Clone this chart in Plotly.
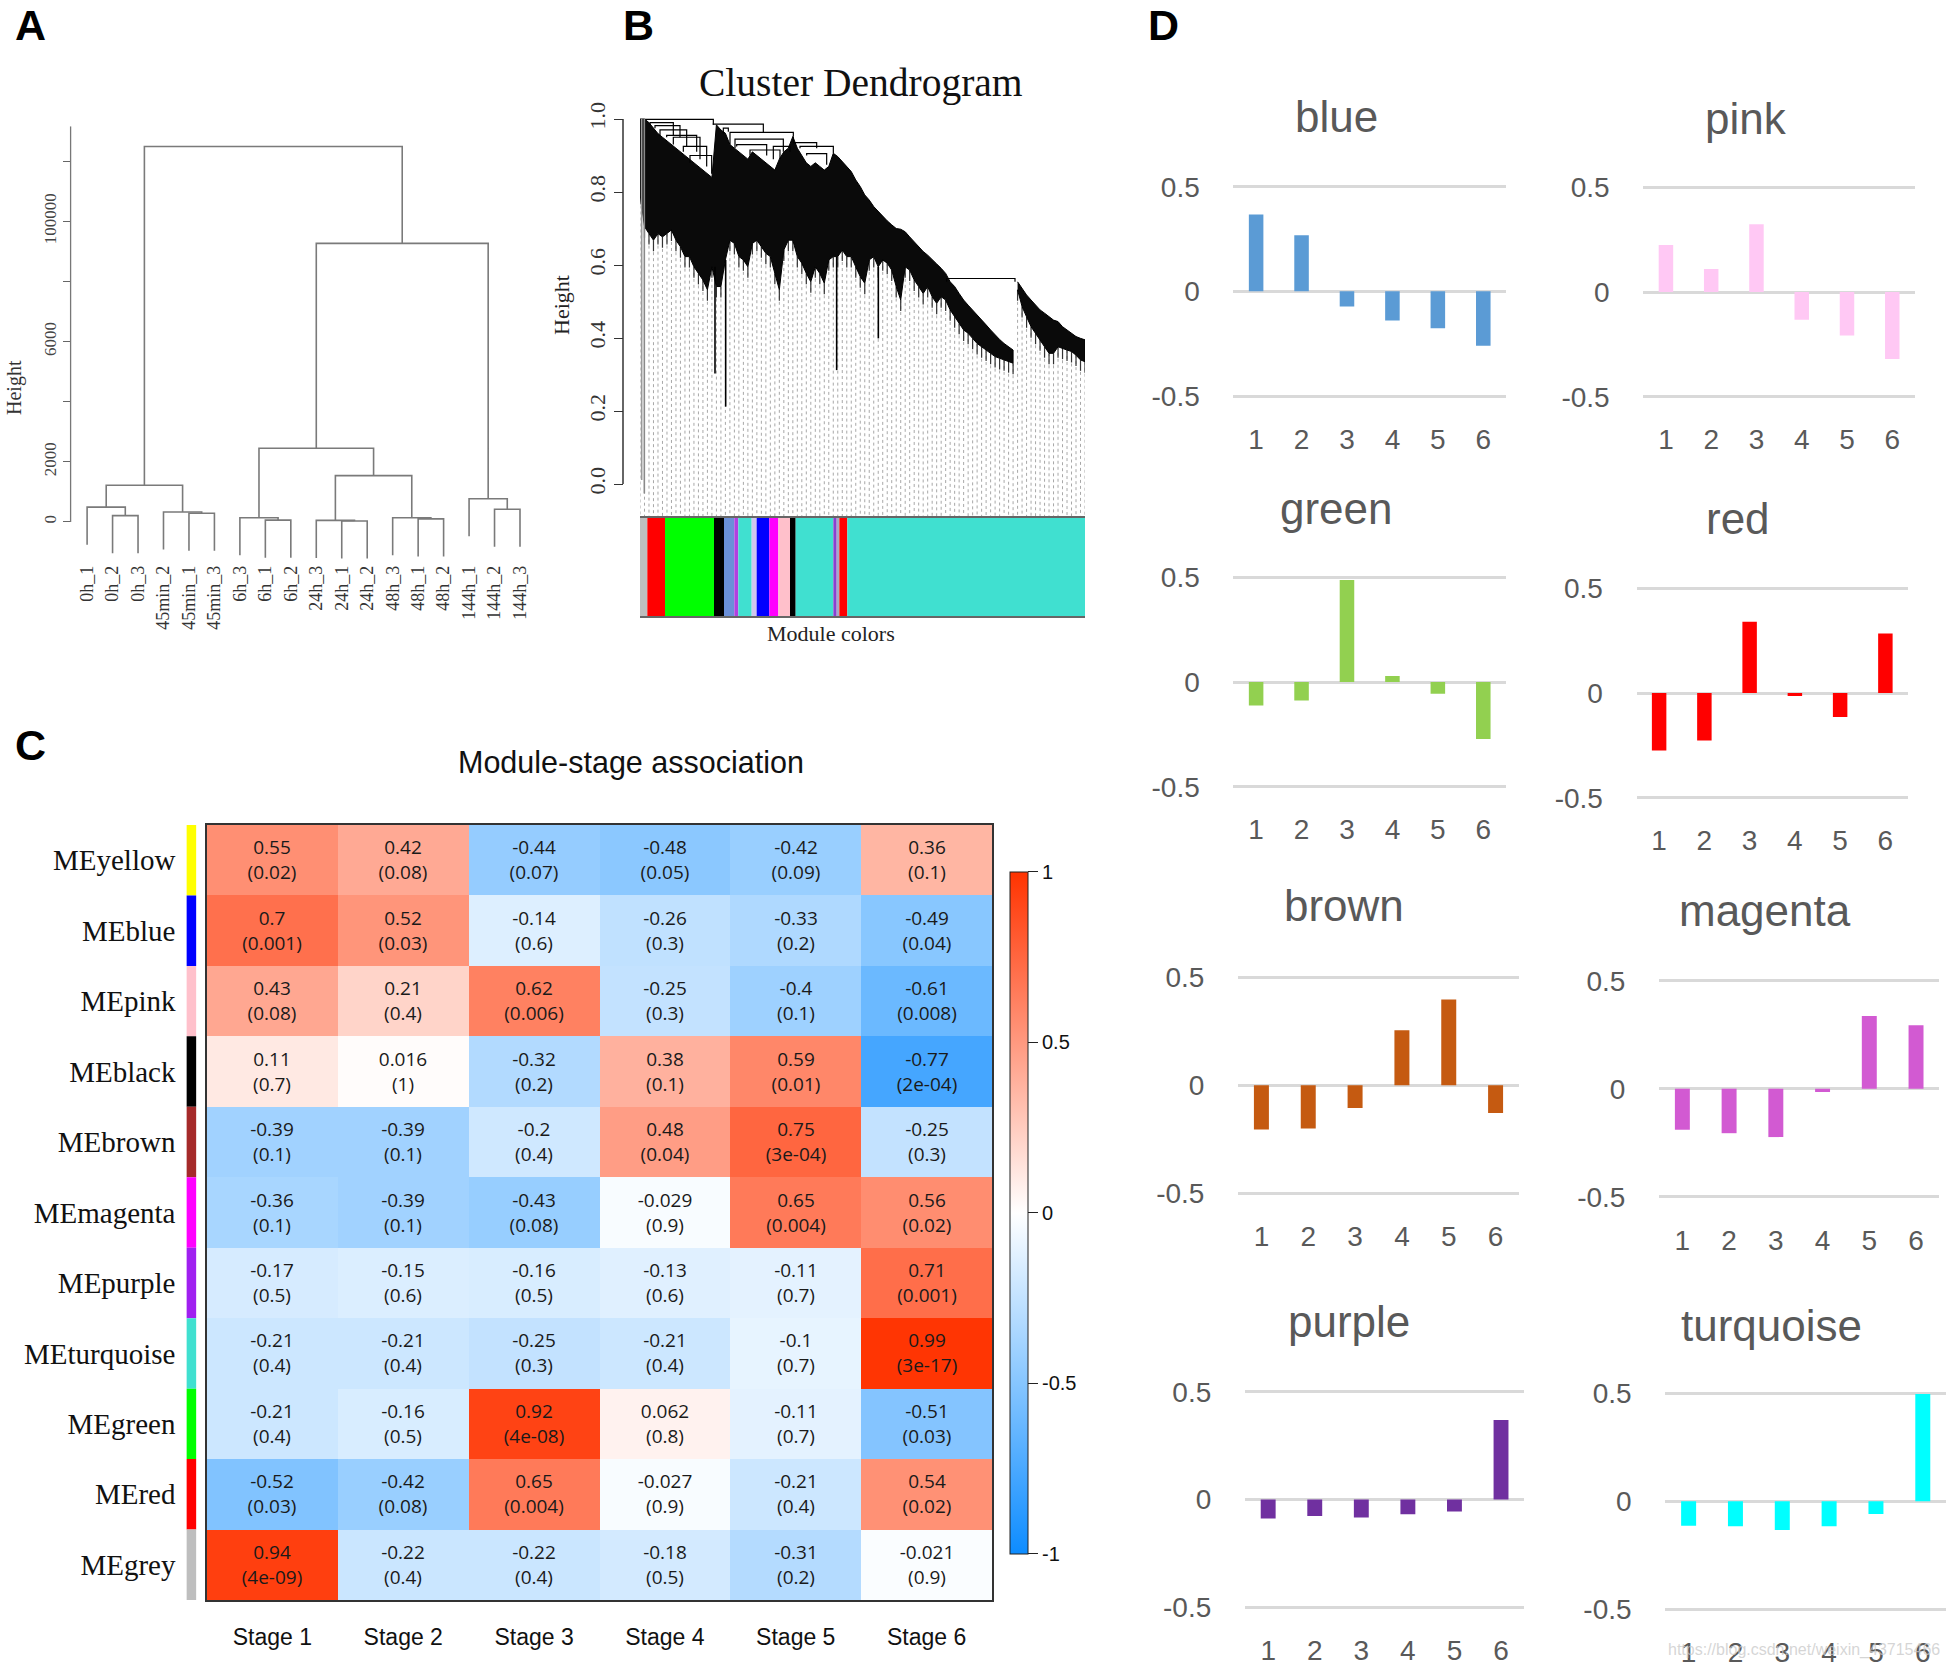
import plotly.graph_objects as go
import numpy as np

W, H = 1949, 1667
SERIF = "Liberation Serif, Times New Roman, serif"
SANS = "Liberation Sans, Arial, sans-serif"
CELL = "Open Sans, Noto Sans, sans-serif"

# ---------------- Panel A: sample dendrogram ----------------
A_leaves = ["0h_1", "0h_2", "0h_3", "45min_2", "45min_1", "45min_3",
            "6h_3", "6h_1", "6h_2", "24h_3", "24h_1", "24h_2",
            "48h_3", "48h_1", "48h_2", "144h_1", "144h_2", "144h_3"]
A_merge_left = [-2, -1, -5, -4, 2, -8, -7, -11, -10, -14, -13, 9, 7, -17, -16, 13, 5]
A_merge_right = [-3, 1, -6, 3, 4, -9, 6, -12, 8, -15, 10, 11, 12, -18, 14, 15, 16]
A_merge_height = [210, 490, 290, 330, 1220, 60, 140, 30, 50, 100, 140, 1540, 2450, 420, 770, 9270, 12490]
A_hang = 1250
A_tickvals = [0, 2000, 4000, 6000, 8000, 10000, 12000]
A_ticktext = ["0", "2000", "", "6000", "", "100000", ""]

# ---------------- Panel B: gene dendrogram + module colours ----------------
B_module_names = ["grey", "red", "green", "black", "steelblue", "purple", "turquoise", "lavender",
                  "blue", "magenta", "pink", "black", "turquoise", "purple", "grey", "red", "turquoise"]
B_module_colors = ["#BEBEBE", "#FF0000", "#00FF00", "#000000", "#6A8FD8", "#B040E0", "#40E0D0", "#CFC6EE",
                   "#0000FF", "#FF00FF", "#FFC0CB", "#000000", "#40E0D0", "#8A3FD0", "#A8A8C8", "#FF0000", "#40E0D0"]
B_module_sizes = [22, 53, 147, 30, 31, 12, 40, 15, 38, 27, 35, 17, 113, 10, 8, 24, 713]
B_guide_count = 100
B_hang = 0.03
B_leaf_h = [0.796, 0.705, 0.686, 0.668, 0.686, 0.677, 0.686, 0.696, 0.668, 0.650,
            0.623, 0.623, 0.595, 0.577, 0.559, 0.532, 0.595, 0.541, 0.541, 0.614,
            0.668, 0.659, 0.623, 0.614, 0.595, 0.659, 0.668, 0.650, 0.632, 0.623,
            0.577, 0.532, 0.641, 0.668, 0.668, 0.623, 0.605, 0.577, 0.554, 0.595,
            0.577, 0.550, 0.614, 0.623, 0.623, 0.641, 0.623, 0.623, 0.595, 0.568,
            0.550, 0.614, 0.623, 0.595, 0.614, 0.605, 0.586, 0.541, 0.504, 0.595,
            0.586, 0.559, 0.541, 0.522, 0.541, 0.513, 0.495, 0.513, 0.504, 0.477,
            0.458, 0.440, 0.422, 0.413, 0.399, 0.385, 0.376, 0.367, 0.358, 0.349,
            0.344, 0.340, 0.335, 0.331, 0.532, 0.486, 0.458, 0.431, 0.413, 0.395,
            0.376, 0.358, 0.358, 0.376, 0.372, 0.367, 0.363, 0.353, 0.340, 0.335]
B_top_h = [1.000, 1.000, 0.990, 0.975, 0.960, 0.950, 0.940, 0.930, 0.920, 0.910,
           0.900, 0.890, 0.880, 0.870, 0.860, 0.850, 0.840, 0.984, 0.970, 0.961,
           0.930, 0.920, 0.910, 0.900, 0.890, 0.910, 0.900, 0.890, 0.880, 0.870,
           0.860, 0.890, 0.910, 0.920, 0.952, 0.920, 0.900, 0.880, 0.870, 0.880,
           0.870, 0.860, 0.870, 0.906, 0.897, 0.883, 0.869, 0.856, 0.833, 0.815,
           0.792, 0.778, 0.760, 0.746, 0.732, 0.721, 0.710, 0.700, 0.698, 0.691,
           0.677, 0.664, 0.650, 0.637, 0.627, 0.616, 0.603, 0.591, 0.577, 0.554,
           0.541, 0.522, 0.504, 0.490, 0.477, 0.463, 0.449, 0.436, 0.422, 0.408,
           0.396, 0.385, 0.376, 0.367, 0.554, 0.536, 0.518, 0.504, 0.490, 0.477,
           0.468, 0.458, 0.449, 0.445, 0.431, 0.422, 0.413, 0.404, 0.399, 0.395]
B_cluster_split = 84   # first guide index of the right-hand cluster
# upper merges: left gene pos, right gene pos, merge height, left child top, right child top
B_br_left = [15, 220, 270, 285, 460, 480, 45, 80, 920,
             30, 60, 100, 130, 150, 290, 330, 500, 250, 400]
B_br_right = [220, 370, 460, 430, 530, 580, 120, 170, 1125,
              100, 140, 180, 200, 215, 380, 420, 560, 265, 450]
B_br_h = [0.999, 0.986, 0.9635, 0.945, 0.935, 0.925, 0.982, 0.955, 0.563,
          0.990, 0.970, 0.950, 0.925, 0.900, 0.930, 0.915, 0.905, 0.975, 0.925]
B_br_hl = [1.000, 0.984, 0.930, 0.920, 0.952, 0.920, 0.975, 0.950, 0.554,
           0.985, 0.955, 0.930, 0.910, 0.880, 0.925, 0.900, 0.900, 0.960, 0.890]
B_br_hr = [0.984, 0.9635, 0.952, 0.910, 0.920, 0.906, 0.950, 0.910, 0.554,
           0.955, 0.925, 0.890, 0.870, 0.850, 0.900, 0.890, 0.875, 0.965, 0.910]
# long single-gene branches
B_spike_u = [5, 13, 225, 257, 590, 715]
B_spike_top = [1.0, 1.0, 0.595, 0.614, 0.623, 0.595]
B_spike_bot = [0.011, -0.026, 0.303, 0.212, 0.312, 0.399]
B_spike_col = ["#9A9A9A", "#8A8A8A", "#000000", "#000000", "#000000", "#000000"]
B_ticks = [0.0, 0.2, 0.4, 0.6, 0.8, 1.0]

# ---------------- Panel C: module-stage heatmap ----------------
C_rows = ["MEyellow", "MEblue", "MEpink", "MEblack", "MEbrown", "MEmagenta",
          "MEpurple", "MEturquoise", "MEgreen", "MEred", "MEgrey"]
C_row_colors = ["#FFFF00", "#0000FF", "#FFC0CB", "#000000", "#A52A2A", "#FF00FF",
                "#A020F0", "#40E0D0", "#00FF00", "#FF0000", "#BEBEBE"]
C_stages = ["Stage 1", "Stage 2", "Stage 3", "Stage 4", "Stage 5", "Stage 6"]
C_corr = [
    [0.55, 0.42, -0.44, -0.48, -0.42, 0.36],
    [0.7, 0.52, -0.14, -0.26, -0.33, -0.49],
    [0.43, 0.21, 0.62, -0.25, -0.4, -0.61],
    [0.11, 0.016, -0.32, 0.38, 0.59, -0.77],
    [-0.39, -0.39, -0.2, 0.48, 0.75, -0.25],
    [-0.36, -0.39, -0.43, -0.029, 0.65, 0.56],
    [-0.17, -0.15, -0.16, -0.13, -0.11, 0.71],
    [-0.21, -0.21, -0.25, -0.21, -0.1, 0.99],
    [-0.21, -0.16, 0.92, 0.062, -0.11, -0.51],
    [-0.52, -0.42, 0.65, -0.027, -0.21, 0.54],
    [0.94, -0.22, -0.22, -0.18, -0.31, -0.021],
]
C_pval = [
    ["0.02", "0.08", "0.07", "0.05", "0.09", "0.1"],
    ["0.001", "0.03", "0.6", "0.3", "0.2", "0.04"],
    ["0.08", "0.4", "0.006", "0.3", "0.1", "0.008"],
    ["0.7", "1", "0.2", "0.1", "0.01", "2e-04"],
    ["0.1", "0.1", "0.4", "0.04", "3e-04", "0.3"],
    ["0.1", "0.1", "0.08", "0.9", "0.004", "0.02"],
    ["0.5", "0.6", "0.5", "0.6", "0.7", "0.001"],
    ["0.4", "0.4", "0.3", "0.4", "0.7", "3e-17"],
    ["0.4", "0.5", "4e-08", "0.8", "0.7", "0.03"],
    ["0.03", "0.08", "0.004", "0.9", "0.4", "0.02"],
    ["4e-09", "0.4", "0.4", "0.5", "0.2", "0.9"],
]
C_cbar_ticks = [-1, -0.5, 0, 0.5, 1]
C_cbar_text = ["-1", "-0.5", "0", "0.5", "1"]

# ---------------- Panel D: module eigengene bars ----------------
D_names = ["blue", "pink", "green", "red", "brown", "magenta", "purple", "turquoise"]
D_colors = ["#5B9BD5", "#FFC8F4", "#92D050", "#FF0000", "#C55A11", "#D25AD2", "#7030A0", "#00FFFF"]
D_stages = [1, 2, 3, 4, 5, 6]
D_values = [
    [0.367, 0.268, -0.072, -0.139, -0.176, -0.26],
    [0.224, 0.110, 0.324, -0.133, -0.208, -0.32],
    [-0.112, -0.088, 0.487, 0.029, -0.056, -0.272],
    [-0.275, -0.227, 0.34, -0.014, -0.115, 0.284],
    [-0.205, -0.2, -0.105, 0.255, 0.397, -0.128],
    [-0.19, -0.206, -0.224, -0.015, 0.337, 0.294],
    [-0.088, -0.076, -0.083, -0.068, -0.056, 0.369],
    [-0.113, -0.116, -0.133, -0.116, -0.059, 0.497],
]
D_ticks = [-0.5, 0, 0.5]
D_ticktext = ["-0.5", "0", "0.5"]

# ================= layout helpers (pixel positions) =================
def px(x):
    return x / W

def py(y):
    return 1 - y / H

def vdomain(v0, p0, v1, p1, rng):
    s = (p1 - p0) / (v1 - v0)
    pb = p0 + (rng[0] - v0) * s
    pt = p0 + (rng[1] - v0) * s
    return [py(pb), py(pt)]

def hdomain(v0, p0, v1, p1, rng):
    s = (p1 - p0) / (v1 - v0)
    pl = p0 + (rng[0] - v0) * s
    pr = p0 + (rng[1] - v0) * s
    return [px(pl), px(pr)]

fig = go.Figure()
layout = {}
annotations = []
shapes = []

# ---------------- Panel A drawing ----------------
def dendro_segments(mleft, mright, heights, hang):
    node_x, node_h = {}, {}
    xs, ys = [], []

    def child(c, h):
        if c < 0:
            return float(-c), h - hang
        return node_x[c], node_h[c]

    for k in range(len(mleft)):
        h = heights[k]
        xa, ya = child(mleft[k], h)
        xb, yb = child(mright[k], h)
        xs += [xa, xa, xb, xb, None]
        ys += [ya, h, h, yb, None]
        node_x[k + 1] = (xa + xb) / 2
        node_h[k + 1] = h
    return xs, ys

ax, ay = dendro_segments(A_merge_left, A_merge_right, A_merge_height, A_hang)
fig.add_trace(go.Scatter(x=ax, y=ay, mode="lines", line=dict(color="#7A7A7A", width=1.6),
                         xaxis="x", yaxis="y", hoverinfo="skip"))
A_yr = [-1310, 13165]
A_xr = [0.36, 18.5]
layout["xaxis"] = dict(domain=hdomain(1, 87.1, 18, 520.0, A_xr), range=A_xr, anchor="y",
                       tickvals=list(range(1, len(A_leaves) + 1)), ticktext=A_leaves, tickangle=-90,
                       tickfont=dict(family=SERIF, size=18, color="#333"), ticks="",
                       showgrid=False, zeroline=False, showline=False)
layout["yaxis"] = dict(domain=vdomain(0, 521.9, 12000, 161.3, A_yr), range=A_yr, anchor="x",
                       tickvals=A_tickvals, ticktext=A_ticktext, tickangle=-90,
                       tickfont=dict(family=SERIF, size=17, color="#444"), ticks="outside",
                       ticklen=7, tickcolor="#666", showgrid=False, zeroline=False, showline=False)
shapes.append(dict(type="line", xref="paper", yref="y", x0=px(70.6), x1=px(70.6), y0=0, y1=13165,
                   line=dict(color="#777", width=1.3)))
annotations.append(dict(text="Height", x=px(14), y=py(388), xref="paper", yref="paper",
                        showarrow=False, textangle=-90, font=dict(family=SERIF, size=20, color="#333"),
                        xanchor="center", yanchor="middle"))

# ---------------- Panel B drawing ----------------
B_total = sum(B_module_sizes)
B_u = np.linspace(0, B_total, B_guide_count)
B_bottom = -0.093
gx, gy, sx, sy = [], [], [], []
for i in range(B_guide_count):
    gx += [B_u[i], B_u[i], None]
    gy += [B_leaf_h[i], B_bottom, None]
    sx += [B_u[i], B_u[i], None]
    sy += [B_leaf_h[i], B_leaf_h[i] - B_hang, None]
fig.add_trace(go.Scatter(x=gx, y=gy, mode="lines", line=dict(color="#A8A8A8", width=1, dash="dot"),
                         xaxis="x2", yaxis="y2", hoverinfo="skip"))
fig.add_trace(go.Scatter(x=sx, y=sy, mode="lines", line=dict(color="#333333", width=1.2),
                         xaxis="x2", yaxis="y2", hoverinfo="skip"))
for a, b in [(0, B_cluster_split), (B_cluster_split, B_guide_count)]:
    xs = list(B_u[a:b]) + list(B_u[a:b][::-1])
    ys = list(B_top_h[a:b]) + list(B_leaf_h[a:b][::-1])
    fig.add_trace(go.Scatter(x=xs, y=ys, mode="lines", fill="toself", fillcolor="#0A0A0A",
                             line=dict(color="#000000", width=1), xaxis="x2", yaxis="y2",
                             hoverinfo="skip"))
bx, by = [], []
for i in range(len(B_br_left)):
    bx += [B_br_left[i], B_br_left[i], B_br_right[i], B_br_right[i], None]
    by += [B_br_hl[i], B_br_h[i], B_br_h[i], B_br_hr[i], None]
fig.add_trace(go.Scatter(x=bx, y=by, mode="lines", line=dict(color="#000", width=1.2),
                         xaxis="x2", yaxis="y2", hoverinfo="skip"))
for i in range(len(B_spike_u)):
    fig.add_trace(go.Scatter(x=[B_spike_u[i], B_spike_u[i]], y=[B_spike_top[i], B_spike_bot[i]],
                             mode="lines", line=dict(color=B_spike_col[i], width=1.6),
                             xaxis="x2", yaxis="y2", hoverinfo="skip"))
B_yr = [B_bottom, 1.05]
B_xr = [0, B_total]
layout["xaxis2"] = dict(domain=[px(640), px(1085)], range=B_xr, anchor="y2", visible=False)
layout["yaxis2"] = dict(domain=vdomain(0, 484, 1, 119, B_yr), range=B_yr, anchor="free",
                        position=px(623), tickvals=B_ticks, ticktext=["%.1f" % t for t in B_ticks],
                        tickangle=-90, tickfont=dict(family=SERIF, size=22, color="#333"),
                        ticks="outside", ticklen=9, tickcolor="#333", showgrid=False,
                        zeroline=False, showline=False)
shapes.append(dict(type="line", xref="paper", yref="y2", x0=px(623), x1=px(623), y0=0, y1=1,
                   line=dict(color="#333", width=1.5)))
# module colour bar
base = np.concatenate([[0], np.cumsum(B_module_sizes)[:-1]])
for i in range(len(B_module_sizes)):
    fig.add_trace(go.Bar(x=[B_module_sizes[i]], base=[base[i]], y=[0], orientation="h", width=1,
                         marker=dict(color=B_module_colors[i], line=dict(width=0)),
                         name=B_module_names[i], xaxis="x3", yaxis="y3", hoverinfo="skip"))
layout["xaxis3"] = dict(domain=[px(640), px(1085)], range=B_xr, anchor="y3", showline=True,
                        mirror=True, linecolor="#666", linewidth=1.5, showticklabels=False,
                        ticks="", showgrid=False, zeroline=False)
layout["yaxis3"] = dict(domain=[py(616), py(518)], range=[-0.5, 0.5], anchor="x3",
                        showticklabels=False, ticks="", showgrid=False, zeroline=False, showline=False)
annotations.append(dict(text="Cluster Dendrogram", x=px(861), y=py(83), xref="paper", yref="paper",
                        showarrow=False, font=dict(family=SERIF, size=39.5, color="#111"),
                        xanchor="center", yanchor="middle"))
annotations.append(dict(text="Height", x=px(561), y=py(305), xref="paper", yref="paper",
                        showarrow=False, textangle=-90, font=dict(family=SERIF, size=22, color="#222"),
                        xanchor="center", yanchor="middle"))
annotations.append(dict(text="Module colors", x=px(831), y=py(633), xref="paper", yref="paper",
                        showarrow=False, font=dict(family=SERIF, size=22, color="#222"),
                        xanchor="center", yanchor="middle"))

# ---------------- Panel C drawing ----------------
C_text = [["%s<br>(%s)" % (str(C_corr[r][c]), C_pval[r][c]) for c in range(len(C_stages))]
          for r in range(len(C_rows))]
fig.add_trace(go.Heatmap(
    z=C_corr, x=C_stages, y=C_rows, text=C_text, texttemplate="%{text}",
    textfont=dict(family=CELL, size=19, color="#1A1A1A"),
    colorscale=[[0, "#0D8CFF"], [0.5, "#FFFFFF"], [1, "#FF3300"]], zmin=-1, zmax=1,
    xaxis="x4", yaxis="y4", hoverinfo="skip",
    colorbar=dict(x=px(1009.6), xanchor="left", y=py(1212.8), yanchor="middle",
                  len=682, lenmode="pixels", thickness=18, thicknessmode="pixels",
                  outlinewidth=1, outlinecolor="#222", tickvals=C_cbar_ticks, ticktext=C_cbar_text,
                  ticks="outside", ticklen=10, tickcolor="#222",
                  tickfont=dict(family=SANS, size=20, color="#111"), xpad=0, ypad=0)))
fig.add_trace(go.Bar(x=[1] * len(C_rows), y=C_rows, orientation="h", width=1,
                     marker=dict(color=C_row_colors, line=dict(width=0)),
                     xaxis="x5", yaxis="y4", hoverinfo="skip"))
layout["xaxis4"] = dict(domain=[px(207), px(992)], anchor="y4", range=[-0.5, 5.5],
                        tickfont=dict(family=SANS, size=23, color="#111"), ticks="outside",
                        ticklen=16, tickcolor="rgba(0,0,0,0)", showline=True, mirror=True,
                        linecolor="#333", linewidth=1.5, showgrid=False, zeroline=False)
layout["yaxis4"] = dict(domain=[py(1600), py(825)], anchor="x4", range=[10.5, -0.5],
                        tickfont=dict(family=SERIF, size=29, color="#111"), ticks="outside",
                        ticklen=24, tickcolor="rgba(0,0,0,0)", showline=True, mirror=True,
                        linecolor="#333", linewidth=1.5, showgrid=False, zeroline=False)
layout["xaxis5"] = dict(domain=[px(186.4), px(196.4)], range=[0, 1], anchor="y4", visible=False)
annotations.append(dict(text="Module-stage association", x=px(631), y=py(762), xref="paper",
                        yref="paper", showarrow=False, font=dict(family=SANS, size=30.5, color="#111"),
                        xanchor="center", yanchor="middle"))

# ---------------- Panel D drawing ----------------
D_pos = [
    (1233.4, 1506.0, 186.7, 396.0, 1336, 117),
    (1643.3, 1914.9, 187.3, 396.7, 1746, 118),
    (1233.4, 1506.0, 577.3, 786.7, 1336, 508),
    (1636.5, 1908.0, 588.3, 797.7, 1738, 518),
    (1238.0, 1519.0, 977.3, 1193.3, 1344, 905),
    (1659.0, 1939.4, 980.7, 1196.7, 1764.5, 910),
    (1244.9, 1524.3, 1391.7, 1607.3, 1349, 1321.7),
    (1665.2, 1946.2, 1393.3, 1609.3, 1771, 1325),
]
D_yr = [-0.52, 0.52]
for i in range(len(D_names)):
    k = 6 + i
    xl, xr, ptop, pbot, tx, ty = D_pos[i]
    fig.add_trace(go.Bar(x=D_stages, y=D_values[i], width=0.32,
                         marker=dict(color=D_colors[i], line=dict(width=0)),
                         xaxis="x%d" % k, yaxis="y%d" % k, hoverinfo="skip"))
    layout["xaxis%d" % k] = dict(domain=[px(xl), px(xr)], range=[0.5, 6.5], anchor="y%d" % k,
                                 tickvals=D_stages, ticktext=[str(s) for s in D_stages],
                                 tickfont=dict(family=SANS, size=28, color="#595959"),
                                 ticks="outside", ticklen=14, tickcolor="rgba(0,0,0,0)",
                                 showgrid=False, zeroline=False, showline=False)
    layout["yaxis%d" % k] = dict(domain=vdomain(0.5, ptop, -0.5, pbot, D_yr), range=D_yr,
                                 anchor="x%d" % k, tickvals=D_ticks, ticktext=D_ticktext,
                                 tickfont=dict(family=SANS, size=28, color="#595959"),
                                 ticks="outside", ticklen=27, tickcolor="rgba(0,0,0,0)",
                                 showgrid=True, gridcolor="#D9D9D9", gridwidth=2.5,
                                 zeroline=False, showline=False)
    annotations.append(dict(text=D_names[i], x=px(tx), y=py(ty), xref="paper", yref="paper",
                            showarrow=False, font=dict(family=SANS, size=44, color="#595959"),
                            xanchor="center", yanchor="middle"))

# panel letters
for letter, (lx, lyy) in zip(["A", "B", "C", "D"], [(30, 0), (638, 0), (30, 720), (1163, 0)]):
    annotations.append(dict(text="<b>%s</b>" % letter, x=px(lx), y=py(lyy), xref="paper",
                            yref="paper", showarrow=False, borderpad=0,
                            font=dict(family=SANS, size=43, color="#000"),
                            xanchor="center", yanchor="top"))
annotations.append(dict(text="https://blog.csdn.net/weixin_43715466", x=px(1804), y=py(1650),
                        xref="paper", yref="paper", showarrow=False,
                        font=dict(family=SANS, size=16, color="rgba(200,200,200,0.75)"),
                        xanchor="center", yanchor="middle"))

layout.update(dict(width=W, height=H,
                   margin=dict(l=0, r=0, t=0, b=0, pad=0, autoexpand=False),
                   paper_bgcolor="white", plot_bgcolor="white", showlegend=False,
                   barmode="overlay", annotations=annotations, shapes=shapes))
fig.update_layout(**layout)
fig.write_html("out.html")
